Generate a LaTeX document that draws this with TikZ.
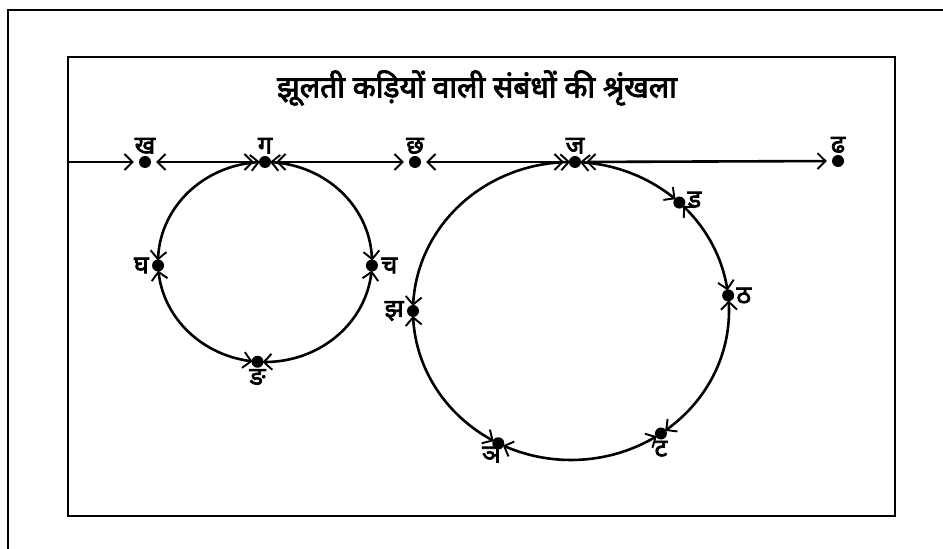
\documentclass[tikz,border=0pt]{standalone}
\usepackage{fontspec}
\newfontfamily\dev[Script=Devanagari,FakeBold=3]{Noto Sans}
\usetikzlibrary{arrows.meta,bending,calc,positioning}
\begin{document}
\begin{tikzpicture}[x=1pt,y=1pt,
  dot/.style={circle,fill=black,inner sep=0pt,minimum size=12pt},
  lab/.style={font=\dev\fontsize{25}{25}\selectfont,inner sep=1pt},
  link/.style={line width=2.6pt,{Straight Barb[length=8pt,width=16pt,line width=1.9pt,bend]}-{Straight Barb[length=8pt,width=16pt,line width=1.9pt,bend]},shorten <=5pt,shorten >=5pt},
  onelink/.style={line width=2.6pt,-{Straight Barb[length=8pt,width=16pt,line width=1.9pt]},shorten >=5pt},
  frame/.style={line width=2.6pt}]
\useasboundingbox (0,0) rectangle (943,549);
% frames
\draw[frame] (8,0) -- (8,539) -- (943,539);
\draw[frame] (68,33) rectangle (895,492);
% title
\node[font=\dev\fontsize{30}{30}\selectfont] (title) at (477,461) {झूलती कड़ियों वाली संबंधों की श्रृंखला};
% top line nodes
\coordinate (start) at (68,387);
\node[dot] (kh) at (145,387) {};
\node[dot] (g) at (265,387) {};
\node[dot] (chh) at (415,387) {};
\node[dot] (j) at (575,387) {};
\node[dot] (dhh) at (838,388) {};
% small ellipse (center 265,287; rx 107, ry 100)
\node[dot] (gh) at ($(265,287)+(182:107 and 100)$) {};
\node[dot] (ng) at ($(265,287)+(266:107 and 100)$) {};
\node[dot] (ch) at ($(265,287)+(-2:107 and 100)$) {};
% big ellipse (center 571,238; rx 158, ry 149)
\node[dot] (ddh) at ($(571,238)+(46.7:158 and 149)$) {};
\node[dot] (tth) at ($(571,238)+(6:158 and 149)$) {};
\node[dot] (tt) at ($(571,238)+(-55.3:158 and 149)$) {};
\node[dot] (ny) at ($(571,238)+(-117.4:158 and 149)$) {};
\node[dot] (jh) at ($(571,238)+(180:158 and 149)$) {};
% top line connectors
\draw[onelink] (start) -- (kh);
\draw[link] (kh) -- (g);
\draw[link] (g) -- (chh);
\draw[link] (chh) -- (j);
\draw[link] (j) -- (dhh);
% small ellipse arcs
\draw[link] (g.center) arc[start angle=90,end angle=182,x radius=107,y radius=100];
\draw[link] (gh.center) arc[start angle=182,end angle=266,x radius=107,y radius=100];
\draw[link] (ng.center) arc[start angle=266,end angle=358,x radius=107,y radius=100];
\draw[link] (ch.center) arc[start angle=358,end angle=450,x radius=107,y radius=100];
% big ellipse arcs
\draw[link] (j.center) arc[start angle=88.5,end angle=46.7,x radius=158,y radius=149];
\draw[link] (ddh.center) arc[start angle=46.7,end angle=6,x radius=158,y radius=149];
\draw[link] (tth.center) arc[start angle=6,end angle=-55.3,x radius=158,y radius=149];
\draw[link] (tt.center) arc[start angle=-55.3,end angle=-117.4,x radius=158,y radius=149];
\draw[link] (ny.center) arc[start angle=-117.4,end angle=-180,x radius=158,y radius=149];
\draw[link] (jh.center) arc[start angle=180,end angle=88.5,x radius=158,y radius=149];
% labels
\node[lab,above=1pt of kh] (lkh) {ख};
\node[lab,above=1pt of g] (lg) {ग};
\node[lab,above=1pt of chh] (lchh) {छ};
\node[lab,above=1pt of j] (lj) {ज};
\node[lab,above=1pt of dhh] (ldhh) {ढ};
\node[lab,left=2pt of gh] (lgh) {घ};
\node[lab,right=2pt of ch] (lch) {च};
\node[lab,below=0pt of ng] (lng) {ङ};
\node[lab,left=2pt of jh] (ljh) {झ};
\node[lab,right=1pt of ddh,yshift=3pt] (lddh) {ड};
\node[lab,right=1pt of tth] (ltth) {ठ};
\node[lab,below=0pt of tt] (ltt) {ट};
\node[lab,below left=-2pt and -8pt of ny] (lny) {ञ};
\end{tikzpicture}
\end{document}
